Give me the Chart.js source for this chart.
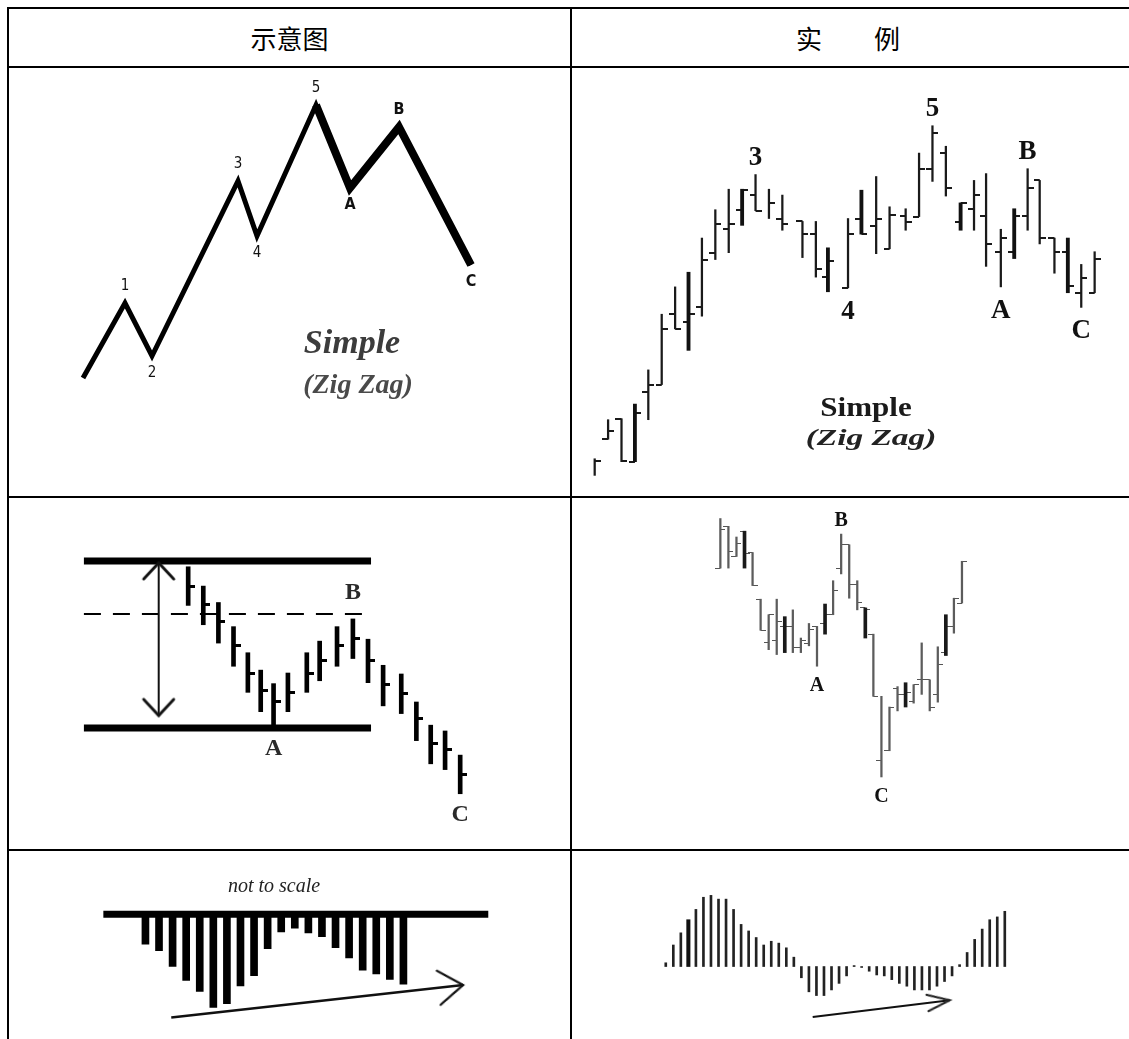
<!DOCTYPE html>
<html lang="zh">
<head>
<meta charset="utf-8">
<title>调整浪 Simple (Zig Zag)</title>
<script src="https://cdn.jsdelivr.net/npm/chart.js@4.4.1/dist/chart.umd.min.js"></script>
<style>
  html, body { margin: 0; padding: 0; background: #fff; }
  body { width: 1129px; height: 1039px; position: relative; overflow: hidden; font-family: "Noto Sans CJK SC", sans-serif; }
  .rule { position: absolute; background: #000; }
  .head { position: absolute; top: 9px; height: 57px; line-height: 57px; text-align: center; font-size: 26px; color: #000; }
  canvas { position: absolute; }
  .note { position: absolute; white-space: nowrap; transform: translate(-50%, -50%); font-family: "Liberation Serif", "DejaVu Serif", serif; }
</style>
</head>
<body>
<div class="rule" style="left:7px;top:7px;width:1122px;height:2px"></div>
<div class="rule" style="left:7px;top:66px;width:1122px;height:2px"></div>
<div class="rule" style="left:7px;top:496px;width:1122px;height:2px"></div>
<div class="rule" style="left:7px;top:849px;width:1122px;height:2px"></div>
<div class="rule" style="left:7px;top:7px;width:2px;height:1032px"></div>
<div class="rule" style="left:570px;top:7px;width:2px;height:1032px"></div>

<div class="head" style="left:9px;width:561px">示意图</div>
<div class="head" style="left:572px;width:552px">实　　例</div>

<canvas id="wave" width="561" height="428" style="left:9px;top:68px"></canvas>
<canvas id="real" width="557" height="428" style="left:572px;top:68px"></canvas>
<canvas id="flat" width="561" height="351" style="left:9px;top:498px"></canvas>
<canvas id="flatReal" width="557" height="351" style="left:572px;top:498px"></canvas>
<canvas id="hist" width="561" height="188" style="left:9px;top:851px"></canvas>
<canvas id="histReal" width="557" height="188" style="left:572px;top:851px"></canvas>

<div class="note" style="left:352px;top:342px;font-style:italic;font-weight:bold;font-size:34px;color:#3c3c3c">Simple</div>
<div class="note" style="left:358px;top:384px;font-style:italic;font-weight:bold;font-size:28px;color:#4a4a4a">(Zig Zag)</div>
<div class="note" style="left:866px;top:407px;font-weight:bold;font-size:27px;color:#1a1a1a;transform:translate(-50%,-50%) scaleX(1.15)">Simple</div>
<div class="note" style="left:871px;top:438px;font-style:italic;font-weight:bold;font-size:23px;color:#222;transform:translate(-50%,-50%) scaleX(1.45)">(Zig Zag)</div>
<div class="note" style="left:274px;top:885px;font-style:italic;font-size:20px;color:#222">not to scale</div>

<script>
// 示意图 – simple zig zag
const waveTime  = [74, 116, 143, 229, 248, 307, 341, 390, 462];
const wavePrice = [118, 193, 140, 315, 260, 391, 308, 369, 231];
const waveNames = ['', '1', '2', '3', '4', '5', 'A', 'B', 'C'];
const waveHeavyFrom = 5; // the A-B-C legs are drawn heavier

// 实例 – zig zag bar chart (open tick left, close tick right)
const rtDay   = [0, 1, 2, 3, 4, 5, 6, 7, 8, 9, 10, 11, 12, 13, 14, 15.5, 16.5, 17.4, 18.9, 19.9, 21, 22, 23.2, 24.2, 25.2, 26.2, 27.3, 28.3, 29.2, 30.3, 31.3, 32.3, 33.2, 34.3, 35.3, 36.3, 37.3];
const rtHigh  = [33, 73, 74, 89, 124, 181, 209, 224, 259, 288, 309, 309, 324, 309, 303, 276, 276, 249, 279, 308, 322, 291, 289, 346, 374, 353, 295, 318, 325, 268, 289, 330, 318, 259, 259, 232, 245];
const rtLow   = [16, 53, 30, 30, 73, 109, 166, 144, 179, 237, 244, 272, 287, 279, 267, 239, 219, 204, 208, 263, 243, 248, 267, 281, 317, 302, 267, 267, 230, 209, 238, 267, 253, 223, 203, 188, 203];
const rtOpen  = [null, 53, 74, 30, 101, 109, 181, 173, 188, 244, 268, 288, 303, null, 279, 276, 263, 219, 208, 279, 271, 248, 282, 281, 330, 346, 275, 289, 282, 245, 245, 282, 318, 259, 245, 203, 203];
const rtClose = [31, 61, 31, 80, 109, 166, 166, 181, 237, 273, 273, 308, 287, 295, 273, 263, 227, 236, 263, 263, 279, 283, 275, 330, 367, 310, 295, 303, 253, 259, 282, 310, 259, 245, 210, 218, 238];
const rtBold  = [3, 7, 11, 17, 19, 26, 30, 34];
const rtWaves = [
  { bar: 12, name: '3', side: 'high' }, { bar: 18, name: '4', side: 'low' },
  { bar: 24, name: '5', side: 'high' }, { bar: 29, name: 'A', side: 'low' },
  { bar: 31, name: 'B', side: 'high' }, { bar: 35, name: 'C', side: 'low' }
];

// 示意图 – flat / range correction
const flatDay   = [0, 1, 2, 3, 3.95, 4.8, 5.65, 6.6, 7.85, 8.7, 9.85, 10.9, 11.9, 12.9, 14.1, 15.1, 16.05, 17, 18];
const flatHigh  = [286, 266, 249, 224, 197, 179, 165, 176, 197, 209, 224, 232, 211, 184, 175, 146, 122, 116, 91];
const flatLow   = [246, 226, 207, 183, 156, 136, 119, 136, 156, 168, 183, 191, 166, 142, 134, 106, 82, 76, 51];
const flatClose = [266, 247, 229, 204, 176, 158, 146, 156, 176, 189, 204, 212, 189, 164, 155, 129, 103, 97, 71];
const flatTop = 292, flatBottom = 119, flatMid = 237;
const flatSpan = [-6.9, 12.1];
const flatSwingDay = -1.95, flatSwing = [132, 290];
const flatWaves = [
  { bar: 6, name: 'A', side: 'low' }, { bar: 11, name: 'B', side: 'high' }, { bar: 18, name: 'C', side: 'low' }
];

// 实例 – flat correction bars
const mixDay   = [0, 1, 2, 3, 4, 5, 6, 7, 8, 9, 10, 11, 12, 13, 14, 15, 16, 17, 18, 19, 20, 21, 22, 23, 24, 25, 26, 27, 28, 29, 30];
const mixHigh  = [335, 327, 316, 322, 300, 252, 236, 252, 234, 241, 212, 227, 224, 247, 271, 319, 308, 271, 243, 216, 152, 141, 162, 166, 164, 207, 169, 203, 236, 253, 291];
const mixLow   = [284, 284, 296, 284, 266, 220, 200, 195, 197, 197, 197, 204, 183, 216, 236, 278, 253, 241, 212, 152, 69, 96, 137, 141, 145, 154, 137, 146, 194, 217, 248];
const mixOpen  = [284, 327, 296, 322, 300, 252, 207, 209, 224, 224, 202, 206, 224, 227, 236, 284, 308, 267, 243, 216, 86, 96, 160, 154, 147, 169, 169, 154, 197, 224, 248];
const mixClose = [324, 301, 309, 299, 266, 220, 236, 229, 224, 202, 209, 221, null, 236, 261, 308, 267, 249, 241, 152, null, 141, 154, 156, 164, 169, 141, 185, 224, 253, 291];
const mixBold  = [3, 8, 13, 18, 23, 28];
const mixWaves = [
  { bar: 12, name: 'A', side: 'low' }, { bar: 15, name: 'B', side: 'high' }, { bar: 20, name: 'C', side: 'low' }
];

// 示意图 – histogram hanging under the zero line
const histBar = [-32, -39, -56, -71, -83, -100, -96, -77, -66, -37, -19, -15, -20, -24, -36, -47, -60, -64, -70, -75];
const histZeroSpan = [-3.1, 25.25];
const histTrendX = [1.9, 23.4], histTrendY = [-111, -76];

// 实例 – oscillator histogram
const macdBar = [4, 23, 36, 50, 61, 74, 76, 72, 72, 61, 45, 38, 31, 23, 27, 25, 20, 10, -12, -27, -31, -31, -25, -18, -10, 1, -1, -5, -9, -10, -14, -18, -21, -25, -25, -25, -21, -16, -10, 2, 15, 29, 40, 50, 53, 59];
const macdBold = [3];
const macdTrendX = [19.5, 37.7], macdTrendY = [-54, -36];

function baseOptions(xRange, yRange) {
  return {
    responsive: false,
    maintainAspectRatio: false,
    devicePixelRatio: 1,
    animation: false,
    events: [],
    layout: { padding: 0 },
    plugins: { legend: { display: false }, tooltip: { enabled: false } },
    scales: {
      x: { type: 'linear', min: xRange[0], max: xRange[1], display: false, offset: false },
      y: { type: 'linear', min: yRange[0], max: yRange[1], display: false }
    }
  };
}

function tickImage(len, width, color, side) {
  const c = document.createElement('canvas');
  c.width = 2 * len; c.height = width;
  const g = c.getContext('2d');
  g.fillStyle = color;
  g.fillRect(side === 'left' ? 0 : len, 0, len, width);
  return c;
}

function chevronImage(len, halfAngle, width, color) {
  const size = 2 * Math.ceil(len + width);
  const c = document.createElement('canvas');
  c.width = size; c.height = size;
  const g = c.getContext('2d');
  const m = size / 2, a = halfAngle * Math.PI / 180;
  g.strokeStyle = color; g.lineWidth = width; g.lineCap = 'round'; g.lineJoin = 'miter';
  g.beginPath();
  g.moveTo(m - len * Math.cos(a), m - len * Math.sin(a));
  g.lineTo(m, m);
  g.lineTo(m - len * Math.cos(a), m + len * Math.sin(a));
  g.stroke();
  return c;
}

function arrowAngle(ctx) {
  const pts = ctx.chart.data.datasets[ctx.datasetIndex].data;
  const { x, y } = ctx.chart.scales;
  const a = pts[0], b = pts[pts.length - 1];
  const deg = Math.atan2(y.getPixelForValue(b.y) - y.getPixelForValue(a.y),
                         x.getPixelForValue(b.x) - x.getPixelForValue(a.x)) * 180 / Math.PI;
  return ctx.dataIndex === 0 ? deg + 180 : deg;
}

function arrowDataset(xs, ys, head, width, both) {
  return {
    type: 'line',
    data: xs.map((x, i) => ({ x, y: ys[i] })),
    borderColor: '#111',
    borderWidth: width,
    borderCapStyle: 'butt',
    pointStyle: head,
    pointRadius: ctx => (both || ctx.dataIndex === xs.length - 1) ? 3 : 0,
    pointRotation: arrowAngle
  };
}

function levelDataset(span, level, width, dash) {
  return {
    type: 'line',
    data: span.map(x => ({ x, y: level })),
    borderColor: '#000',
    borderWidth: width,
    borderDash: dash || [],
    borderCapStyle: 'butt',
    pointRadius: 0
  };
}

// OHLC style bars: floating bar for the range, image points for open/close ticks
function ohlcDatasets(day, high, low, open, close, bold, look) {
  const idx = day.map((d, i) => i);
  const range = i => ({ x: day[i], y: [low[i], high[i]] });
  const sets = [
    { type: 'bar', grouped: false, data: idx.filter(i => !bold.includes(i)).map(range),
      backgroundColor: look.thin, barThickness: look.thinW },
    { type: 'bar', grouped: false, data: idx.filter(i => bold.includes(i)).map(range),
      backgroundColor: look.thick, barThickness: look.thickW }
  ];
  [[open, 'left'], [close, 'right']].forEach(([vals, side]) => {
    if (!vals) return;
    sets.push({
      type: 'scatter',
      data: idx.filter(i => vals[i] != null).map(i => ({ x: day[i], y: vals[i] })),
      pointStyle: tickImage(look.tickLen, look.tickW, look.tickColor, side),
      pointRadius: 3
    });
  });
  return sets;
}

function markerPlugin(items, look) {
  return {
    id: 'markers',
    afterDatasetsDraw(chart) {
      const { ctx, scales: { x, y } } = chart;
      ctx.save();
      ctx.fillStyle = look.color;
      ctx.textAlign = 'center';
      ctx.textBaseline = 'middle';
      items.forEach(it => {
        ctx.font = /[A-Z]/.test(it.text) && look.letterFont ? look.letterFont : look.font;
        const py = y.getPixelForValue(it.y) + (it.up ? -look.above : look.below);
        ctx.fillText(it.text, x.getPixelForValue(it.x), py);
      });
      ctx.restore();
    }
  };
}

function barMarkers(waves, day, high, low) {
  return waves.map(w => ({
    text: w.name, x: day[w.bar], up: w.side === 'high',
    y: w.side === 'high' ? high[w.bar] : low[w.bar]
  }));
}

// ---- 1. schematic zig zag ----
const wavePts = waveTime.map((t, i) => ({ x: t, y: wavePrice[i] }));
new Chart(document.getElementById('wave'), {
  type: 'line',
  data: {
    datasets: [
      { data: wavePts.slice(waveHeavyFrom), borderColor: '#000', borderWidth: 8,
        borderJoinStyle: 'miter', borderCapStyle: 'butt', pointRadius: 0, tension: 0 },
      { data: wavePts, borderColor: '#000', borderWidth: 5,
        borderJoinStyle: 'miter', borderCapStyle: 'butt', pointRadius: 0, tension: 0 }
    ]
  },
  options: baseOptions([0, 561], [0, 428]),
  plugins: [markerPlugin(
    waveNames.map((n, i) => ({ text: n, x: waveTime[i], y: wavePrice[i], up: i === 0 || wavePrice[i] > wavePrice[i - 1] })).filter(m => m.text),
    { font: "15px 'Liberation Sans Narrow', 'DejaVu Sans Condensed', sans-serif",
      letterFont: "bold 16px 'Liberation Sans Narrow', 'DejaVu Sans Condensed', sans-serif",
      color: '#111', above: 17, below: 17 }
  )]
});

// ---- 2. real zig zag ----
new Chart(document.getElementById('real'), {
  type: 'bar',
  data: { datasets: ohlcDatasets(rtDay, rtHigh, rtLow, rtOpen, rtClose, rtBold,
    { thin: '#1a1a1a', thick: '#111', thinW: 1.6, thickW: 3.2, tickLen: 6, tickW: 2, tickColor: '#1a1a1a' }) },
  options: baseOptions([-1.32, 39.49], [0, 428]),
  plugins: [markerPlugin(barMarkers(rtWaves, rtDay, rtHigh, rtLow),
    { font: "bold 27px 'Liberation Serif', serif", color: '#111', above: 17, below: 24 })]
});

// ---- 3. schematic flat ----
new Chart(document.getElementById('flat'), {
  type: 'bar',
  data: { datasets: [
    ...ohlcDatasets(flatDay, flatHigh, flatLow, null, flatClose, [],
      { thin: '#000', thick: '#000', thinW: 4, thickW: 4, tickLen: 7, tickW: 3, tickColor: '#000' }),
    arrowDataset([flatSwingDay, flatSwingDay], flatSwing, chevronImage(22, 43, 3, '#111'), 2, true),
    levelDataset(flatSpan, flatTop, 7),
    levelDataset(flatSpan, flatBottom, 7),
    levelDataset(flatSpan, flatMid, 2, [17, 12])
  ] },
  options: baseOptions([-11.46, 24.87], [0, 351]),
  plugins: [markerPlugin(barMarkers(flatWaves, flatDay, flatHigh, flatLow),
    { font: "bold 24px 'Liberation Serif', serif", color: '#2a2a2a', above: 26, below: 21 })]
});

// ---- 4. real flat ----
new Chart(document.getElementById('flatReal'), {
  type: 'bar',
  data: { datasets: ohlcDatasets(mixDay, mixHigh, mixLow, mixOpen, mixClose, mixBold,
    { thin: '#5c5c5c', thick: '#1a1a1a', thinW: 1.6, thickW: 3, tickLen: 5, tickW: 1.6, tickColor: '#555' }) },
  options: baseOptions([-17.8, 50.12], [0, 351]),
  plugins: [markerPlugin(barMarkers(mixWaves, mixDay, mixHigh, mixLow),
    { font: "bold 20px 'Liberation Serif', serif", color: '#111', above: 13, below: 20 })]
});

// ---- 5. schematic histogram ----
new Chart(document.getElementById('hist'), {
  type: 'bar',
  data: { datasets: [
    { type: 'bar', grouped: false, data: histBar.map((v, i) => ({ x: i, y: v })),
      backgroundColor: '#000', barThickness: 7 },
    levelDataset(histZeroSpan, 0, 7),
    arrowDataset(histTrendX, histTrendY, chevronImage(30, 35, 2.2, '#111'), 2.5, false)
  ] },
  options: baseOptions([-9.57, 30.79], [-127, 61])
});

// ---- 6. real histogram ----
new Chart(document.getElementById('histReal'), {
  type: 'bar',
  data: { datasets: [
    { type: 'bar', grouped: false,
      data: macdBar.map((v, i) => ({ x: i, y: v })).filter((p, i) => !macdBold.includes(i)),
      backgroundColor: '#222', barThickness: 2 },
    { type: 'bar', grouped: false,
      data: macdBar.map((v, i) => ({ x: i, y: v })).filter((p, i) => macdBold.includes(i)),
      backgroundColor: '#111', barThickness: 3.4 },
    arrowDataset(macdTrendX, macdTrendY, chevronImage(24, 20, 2, '#222'), 2, false)
  ] },
  options: baseOptions([-11.65, 60.69], [-71, 117])
});
</script>
</body>
</html>
